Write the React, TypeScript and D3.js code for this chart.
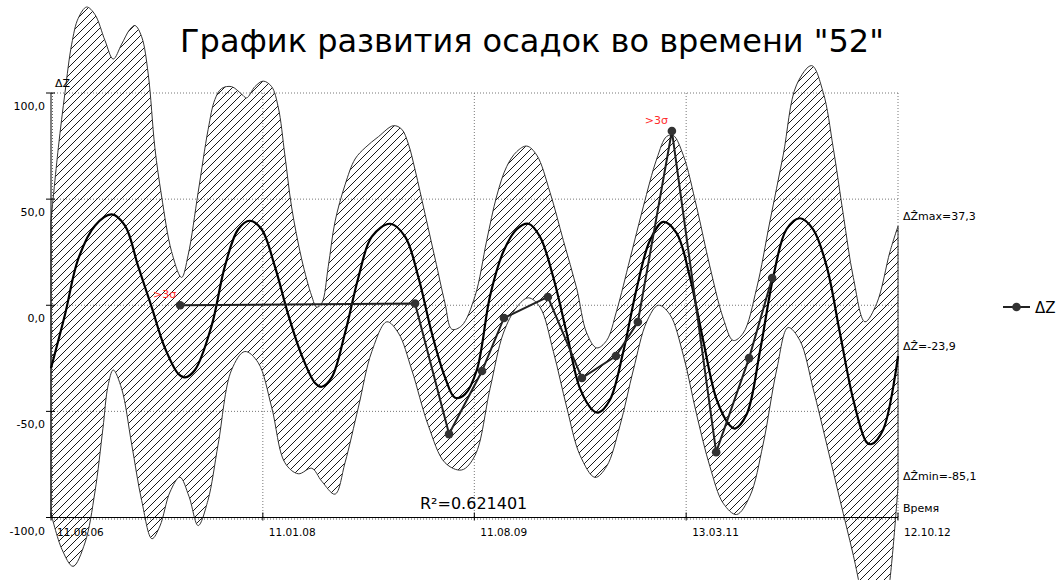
import React from "react";
import * as d3 from "d3";

const TITLE = 'График развития осадок во времени "52"';
const START_DATE = "2006-06-11";
const END_DATE = "2012-10-12";
const X_TICK_DATES = ["2006-06-11", "2008-01-11", "2009-08-11", "2011-03-13", "2012-10-12"];
const Y_TICKS = [100, 50, 0, -50, -100];
const Y_GRID = [100, 50, 0, -50];

// measured settlements ΔZ
const MEAS_DATES = [
  "2007-05-30", "2009-03-02", "2009-06-03", "2009-09-01", "2009-10-31", "2010-02-28",
  "2010-06-01", "2010-09-02", "2010-11-01", "2011-02-02", "2011-06-03", "2011-09-01", "2011-11-03",
];
const MEAS_VALUES = [0.0, 0.8, -60.7, -31.0, -6.0, 3.9, -34.3, -23.9, -7.9, 82.1, -69.2, -24.9, 12.8];
const OUTLIERS = [0, 9];

// fitted curve (decimal year, value)
const CENTER: [number, number][] = [
  [2006.441, -29.7], [2006.546, -4.4], [2006.645, 21.8], [2006.77, 37.5], [2006.895, 42.8],
  [2006.995, 37.5], [2007.094, 18.3], [2007.195, -0.9], [2007.294, -20.1], [2007.394, -32.3],
  [2007.444, -34.0], [2007.519, -30.5], [2007.644, -9.6], [2007.743, 18.3], [2007.843, 35.8],
  [2007.93, 39.8], [2008.018, 35.8], [2008.117, 18.3], [2008.217, -4.4], [2008.317, -23.5],
  [2008.417, -36.6], [2008.467, -38.4], [2008.542, -34.0], [2008.641, -13.1], [2008.741, 13.1],
  [2008.841, 32.3], [2008.978, 38.4], [2009.09, 32.3], [2009.19, 13.1], [2009.29, -13.1],
  [2009.389, -34.0], [2009.464, -43.6], [2009.539, -41.9], [2009.627, -30.5], [2009.726, 4.4],
  [2009.826, 25.3], [2009.926, 35.8], [2010.013, 38.4], [2010.1, 32.3], [2010.2, 13.1],
  [2010.3, -13.1], [2010.4, -39.3], [2010.499, -49.7], [2010.537, -50.6], [2010.624, -44.5],
  [2010.724, -21.8], [2010.824, 7.9], [2010.923, 30.5], [2011.023, 39.3], [2011.123, 34.0],
  [2011.223, 13.1], [2011.322, -16.6], [2011.423, -44.5], [2011.522, -56.7], [2011.56, -58.1],
  [2011.647, -51.5], [2011.747, -21.8], [2011.846, 13.1], [2011.946, 35.8], [2012.046, 41.0],
  [2012.145, 35.8], [2012.246, 18.3], [2012.345, -13.1], [2012.445, -44.5], [2012.545, -64.6],
  [2012.582, -65.4], [2012.669, -58.4], [2012.779, -23.9],
];

const UPPER: [number, number][] = [
  [2006.441, 40], [2006.496, 74.2], [2006.546, 100.3], [2006.596, 123], [2006.645, 135.2],
  [2006.708, 140.5], [2006.77, 137], [2006.845, 124.8], [2006.907, 116], [2006.97, 123],
  [2007.032, 130], [2007.07, 131.8], [2007.12, 126.5], [2007.169, 109], [2007.219, 74.2],
  [2007.269, 51.5], [2007.344, 25.3], [2007.419, 13.1], [2007.468, 23.6], [2007.543, 53.2],
  [2007.618, 82.9], [2007.668, 96.9], [2007.718, 102.1], [2007.793, 103], [2007.868, 99.5],
  [2007.906, 97.7], [2007.968, 103], [2008.03, 105.6], [2008.093, 103], [2008.142, 93.4],
  [2008.192, 70.7], [2008.242, 46.3], [2008.317, 21.8], [2008.392, 4.4], [2008.429, -0.9],
  [2008.467, 0.9], [2008.516, 18.3], [2008.566, 39.3], [2008.641, 56.7], [2008.716, 68.9],
  [2008.791, 74.2], [2008.89, 79.4], [2009.003, 84.6], [2009.065, 82.9], [2009.115, 75.9],
  [2009.165, 63.7], [2009.24, 42.8], [2009.315, 21.8], [2009.389, 0.9], [2009.44, -11.3],
  [2009.514, -9.6], [2009.614, 4.4], [2009.701, 30.5], [2009.776, 51.5], [2009.851, 65.4],
  [2009.926, 72.4], [2010.001, 75], [2010.076, 70.7], [2010.175, 53.2], [2010.275, 30.5],
  [2010.375, 7.9], [2010.45, -13.1], [2010.525, -20.1], [2010.599, -16.6], [2010.674, -2.6],
  [2010.774, 21.8], [2010.873, 46.3], [2010.974, 68.9], [2011.048, 79.5], [2011.098, 80],
  [2011.173, 70.7], [2011.273, 46.3], [2011.372, 18.3], [2011.472, -6.1], [2011.547, -16.6],
  [2011.622, -13.1], [2011.722, 7.9], [2011.821, 39.3], [2011.921, 70.7], [2012.021, 103.8],
  [2012.134, 112.9], [2012.22, 100.3], [2012.295, 74.2], [2012.37, 42.8], [2012.445, 13.1],
  [2012.532, -7.8], [2012.62, 0.9], [2012.719, 25.3], [2012.779, 37.3],
];

const LOWER: [number, number][] = [
  [2006.441, -98], [2006.523, -115], [2006.606, -123], [2006.695, -112], [2006.77, -88],
  [2006.83, -58], [2006.868, -38], [2006.907, -30.5], [2006.97, -39.3], [2007.045, -65.4],
  [2007.12, -92], [2007.197, -110], [2007.257, -104], [2007.332, -88], [2007.406, -81],
  [2007.474, -90], [2007.543, -103.8], [2007.616, -92], [2007.693, -65.4], [2007.793, -30.5],
  [2007.893, -21.8], [2007.992, -27], [2008.093, -48], [2008.192, -74.2], [2008.292, -79.4],
  [2008.392, -76.8], [2008.467, -82.9], [2008.566, -89], [2008.641, -74.2], [2008.741, -48],
  [2008.841, -21.8], [2008.953, -7.8], [2009.04, -13.1], [2009.14, -30.5], [2009.264, -56.7],
  [2009.389, -74.2], [2009.514, -77.6], [2009.614, -70.7], [2009.726, -39.3], [2009.826, -13.1],
  [2009.926, -0.9], [2010.013, 3.5], [2010.1, -0.9], [2010.2, -21.8], [2010.3, -48],
  [2010.4, -70.7], [2010.512, -81.1], [2010.599, -75.9], [2010.699, -56.7], [2010.799, -30.5],
  [2010.899, -7.8], [2010.986, 0], [2011.073, -4.4], [2011.173, -23.5], [2011.273, -51.5],
  [2011.372, -75.9], [2011.472, -93.3], [2011.572, -98.6], [2011.672, -89.9], [2011.771, -65.4],
  [2011.872, -30.5], [2011.958, -10.5], [2012.046, -16.6], [2012.145, -39.3], [2012.246, -65.4],
  [2012.345, -91.6], [2012.445, -117.8], [2012.57, -152.7], [2012.632, -159.7], [2012.707, -135.2],
  [2012.779, -85.1],
];

const R2_TEXT = "R²=0.621401";
const Z_MAX = 37.3;
const Z_NOW = -23.9;
const Z_MIN = -85.1;
const LEGEND_LABEL = "ΔZ";
const Y_TITLE = "ΔZ";
const X_TITLE = "Время";
const OUTLIER_LABEL = ">3σ";

const FONT = "'DejaVu Sans', Verdana, sans-serif";

function parseDate(s: string): Date {
  const [y, m, d] = s.split("-").map(Number);
  return new Date(Date.UTC(y, m - 1, d));
}
function yearToDate(yf: number): Date {
  const yr = Math.floor(yf);
  const a = Date.UTC(yr, 0, 1);
  const b = Date.UTC(yr + 1, 0, 1);
  return new Date(a + (yf - yr) * (b - a));
}
const fmtNum = (v: number) => v.toFixed(1).replace(".", ",");
const fmtDate = d3.utcFormat("%d.%m.%y");

export default function App() {
  const W = 1057, H = 580;
  const x = d3.scaleUtc().domain([parseDate(START_DATE), parseDate(END_DATE)]).range([51, 898]);
  const y = d3.scaleLinear().domain([-100, 100]).range([517.5, 93]);
  const x0 = x.range()[0], x1 = x.range()[1];
  const yTop = y(100), yBot = y(-100);

  const curveLine = d3
    .line<[number, number]>()
    .x((d) => x(yearToDate(d[0])))
    .y((d) => y(d[1]))
    .curve(d3.curveCatmullRom.alpha(0.5));

  const upPath = curveLine(UPPER) || "";
  const loPath = curveLine(LOWER.slice().reverse()) || "";
  const bandPath = upPath + "L" + loPath.slice(1) + "Z";
  const centerPath = curveLine(CENTER) || "";

  const meas = MEAS_DATES.map((d, i) => ({ d: parseDate(d), v: MEAS_VALUES[i] }));
  const measPath =
    d3
      .line<{ d: Date; v: number }>()
      .x((p) => x(p.d))
      .y((p) => y(p.v))(meas) || "";

  const tickDates = X_TICK_DATES.map(parseDate);

  return (
    <svg
      width={W}
      height={H}
      style={{ position: "absolute", left: 0, top: 0, background: "#fff" }}
      fontFamily={FONT}
    >
      <defs>
        <pattern id="hatch" patternUnits="userSpaceOnUse" width={8} height={8}>
          <path
            d="M-1,1 L1,-1 M0,8 L8,0 M7,9 L9,7"
            stroke="#000"
            strokeWidth={0.9}
            shapeRendering="crispEdges"
          />
        </pattern>
      </defs>
      <rect x={0} y={0} width={W} height={H} fill="#fff" />

      {/* title */}
      <text x={532} y={52} textAnchor="middle" fontSize={32} fill="#000">
        {TITLE}
      </text>

      {/* gridlines */}
      {Y_GRID.map((v) => (
        <line key={"hg" + v} x1={x0} x2={x1} y1={y(v)} y2={y(v)} stroke="#777" strokeWidth={1} strokeDasharray="1,2" />
      ))}
      {tickDates.slice(1).map((d, i) => (
        <line key={"vg" + i} x1={x(d)} x2={x(d)} y1={yTop} y2={yBot} stroke="#777" strokeWidth={1} strokeDasharray="1,2" />
      ))}

      {/* band */}
      <path d={bandPath} fill="url(#hatch)" stroke="#333" strokeWidth={1} />

      {/* axes */}
      <line x1={x0} x2={x0} y1={yTop} y2={yBot} stroke="#000" strokeWidth={1} />
      <line x1={x0 + 1.5} x2={x0 + 1.5} y1={yTop} y2={yBot} stroke="#666" strokeWidth={1} strokeDasharray="1,2" />
      {Y_TICKS.map((v) => (
        <g key={"yt" + v}>
          <line x1={x0 - 5} x2={x0 + 4} y1={y(v)} y2={y(v)} stroke="#000" strokeWidth={1} />
          <text x={45} y={y(v) + 17} textAnchor="end" fontSize={11} fill="#000">
            {fmtNum(v)}
          </text>
        </g>
      ))}
      <line x1={x0 - 5} x2={x1} y1={yBot} y2={yBot} stroke="#000" strokeWidth={1.2} />
      <line x1={x0} x2={x1} y1={yBot + 1.5} y2={yBot + 1.5} stroke="#555" strokeWidth={1} strokeDasharray="1,2" />
      {tickDates.map((d, i) => (
        <g key={"xt" + i}>
          <line x1={x(d)} x2={x(d)} y1={yBot - 5} y2={yBot + 3} stroke="#000" strokeWidth={1} />
          <text x={x(d) + 6} y={536} fontSize={10.5} fill="#000">
            {fmtDate(d)}
          </text>
        </g>
      ))}
      <text x={55} y={87} fontSize={11} fill="#000">
        {Y_TITLE}
      </text>
      <text x={903} y={yBot - 6} fontSize={11} fill="#000">
        {X_TITLE}
      </text>

      {/* fitted curve */}
      <path d={centerPath} fill="none" stroke="#000" strokeWidth={2.2} />

      {/* measured */}
      <path d={measPath} fill="none" stroke="#222" strokeWidth={2} />
      {meas.map((p, i) => (
        <circle key={"m" + i} cx={x(p.d)} cy={y(p.v)} r={4.3} fill="#333" />
      ))}
      {OUTLIERS.map((i) => (
        <text key={"o" + i} x={x(meas[i].d) - 4} y={y(meas[i].v) - 7} textAnchor="end" fontSize={11} fill="#ff2a2a">
          {OUTLIER_LABEL}
        </text>
      ))}

      {/* right labels */}
      <text x={903} y={y(Z_MAX) - 6} fontSize={11} fill="#000">
        {"ΔẐmax=" + fmtNum(Z_MAX)}
      </text>
      <text x={903} y={y(Z_NOW) - 6} fontSize={11} fill="#000">
        {"ΔẐ=" + fmtNum(Z_NOW)}
      </text>
      <text x={903} y={y(Z_MIN) - 6} fontSize={11} fill="#000">
        {"ΔẐmin=" + fmtNum(Z_MIN)}
      </text>

      {/* R² */}
      <text x={420} y={509} fontSize={16} fill="#000">
        {R2_TEXT}
      </text>

      {/* legend */}
      <line x1={1003} x2={1030} y1={307} y2={307} stroke="#222" strokeWidth={2} />
      <circle cx={1016.5} cy={307} r={4.3} fill="#333" />
      <text x={1035} y={313} fontSize={15} fill="#000">
        {LEGEND_LABEL}
      </text>
    </svg>
  );
}
